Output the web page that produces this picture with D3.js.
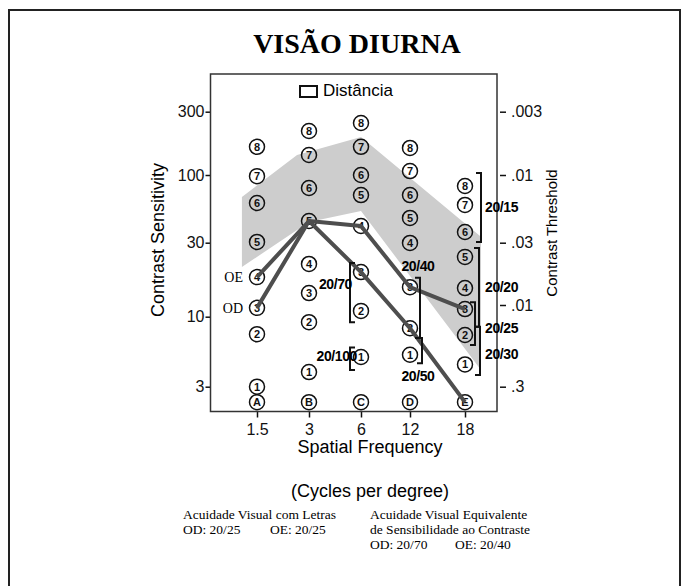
<!DOCTYPE html>
<html lang="pt">
<head>
<meta charset="UTF-8">
<title>Visão Diurna</title>
<style>
    body { margin: 0; padding: 0; background: #fff; }
    svg { display: block; }
    .sans { font-family: "Liberation Sans", Arial, sans-serif; }
    .serif { font-family: "Liberation Serif", "Times New Roman", serif; }
    .tick text { font-family: "Liberation Sans", Arial, sans-serif; font-size: 16px; fill: #111; }
    .tick line { stroke: #111; stroke-width: 1.5; }
</style>
</head>
<body>
<svg width="685" height="586"></svg>
<script src="https://d3js.org/d3.v7.min.js"></script>
<script>
    // spatial frequency columns (cycles per degree)
    const freqLabels = ["1.5", "3", "6", "12", "18"];
    const rowLetters = ["A", "B", "C", "D", "E"];

    // contrast sensitivity of patches 1..8 in each column
    const patches15 = [3.0, 7.4, 11.4, 18.0, 30.4, 60.8, 98, 163];
    const patches3 = [3.86, 9.1, 14.2, 21.9, 44.1, 79.4, 141.5, 214.7];
    const patches6 = [5.0, 10.9, 19.4, 40.4, 70, 100, 163, 246.5];
    const patches12 = [5.2, 8.2, 15.5, 29.9, 46.6, 70, 107, 160];
    const patches18 = [4.4, 7.3, 11.2, 15.3, 24.3, 36.3, 58.7, 82.2];
    const letterRowValue = 2.3;

    // last patch seen per column (0 = letter row)
    const odPatch = [3, 5, 3, 2, 0];
    const oePatch = [4, 5, 4, 3, 3];

    // normal range band [column index, sensitivity]
    const bandUpper = [[-0.29, 67.6], [0.77, 141.5], [2, 193], [4.29, 33.4]];
    const bandLower = [[-0.29, 20.9], [1, 43.4], [2, 52.7], [4.29, 4.0]];

    // acuity brackets
    const acuityLabels = ["20/15", "20/20", "20/25", "20/30", "20/70", "20/100", "20/40", "20/50"];
    const acuityCol = [4, 4, 4, 4, 2, 2, 3, 3];
    const acuityFrom = [30.4, 8.4, 6.15, 3.67, 9.1, 4.0, 6.93, 4.5];
    const acuityTo = [103.6, 27.7, 12.4, 8.4, 22.2, 5.9, 17.8, 6.93];

    const leftTicks = [3, 10, 30, 100, 300];
    const rightTicks = [0.003, 0.01, 0.03, 0.1, 0.3];
    const rightTickLabels = [".003", ".01", ".03", ".01", ".3"];

    const patches = [patches15, patches3, patches6, patches12, patches18];

    const svg = d3.select("svg");

    // plot box
    const box = { left: 210.5, top: 74, right: 497, bottom: 411.5 };

    const x = d3.scaleLinear()
        .domain([0, 1, 2, 3, 4])
        .range([257, 309, 361, 410, 465]);

    // the printed scale is not quite uniform, so map each decade mark
    const y = d3.scaleLog()
        .domain(leftTicks)
        .range([386.7, 316.7, 242.7, 175, 111.7]);

    const yThr = d3.scaleLog()
        .domain(rightTicks)
        .range([111.7, 175, 242.7, 305, 386.7]);

    // outer frame
    svg.append("rect")
        .attr("x", 9).attr("y", 10)
        .attr("width", 671).attr("height", 600)
        .attr("fill", "none").attr("stroke", "#222").attr("stroke-width", 2);

    svg.append("text")
        .attr("class", "serif")
        .attr("x", 357).attr("y", 53)
        .attr("text-anchor", "middle")
        .attr("font-size", 28).attr("font-weight", "bold")
        .text("VISÃO DIURNA");

    // normal band
    const bandPts = bandUpper.concat(bandLower.slice().reverse());
    svg.append("path")
        .attr("d", d3.line().x(d => x(d[0])).y(d => y(d[1])).curve(d3.curveLinearClosed)(bandPts))
        .attr("fill", "#cdcdcd");

    // axes
    svg.append("g")
        .attr("transform", `translate(${box.left},0)`)
        .call(d3.axisLeft(y).tickValues(leftTicks).tickFormat(d3.format("d")).tickSize(5).tickPadding(1))
        .call(g => g.select(".domain").remove());

    svg.append("g")
        .attr("transform", `translate(500,0)`)
        .call(d3.axisRight(yThr).tickValues(rightTicks).tickFormat((d, i) => rightTickLabels[i]).tickSize(6).tickPadding(5))
        .call(g => g.select(".domain").remove());

    svg.append("g")
        .attr("transform", `translate(0,${box.bottom})`)
        .call(d3.axisBottom(x).tickValues([0, 1, 2, 3, 4]).tickFormat(i => freqLabels[i]).tickSize(6).tickPadding(6))
        .call(g => g.select(".domain").remove());

    svg.append("rect")
        .attr("x", box.left).attr("y", box.top)
        .attr("width", box.right - box.left).attr("height", box.bottom - box.top)
        .attr("fill", "none").attr("stroke", "#333").attr("stroke-width", 1.5);

    // legend
    svg.append("rect")
        .attr("x", 300).attr("y", 86).attr("width", 17).attr("height", 11)
        .attr("fill", "none").attr("stroke", "#111").attr("stroke-width", 2);
    svg.append("text")
        .attr("class", "sans")
        .attr("x", 323).attr("y", 96)
        .attr("font-size", 17)
        .text("Distância");

    // patch circles
    const cells = [];
    patches.forEach((col, ci) => {
        col.forEach((v, pi) => cells.push({ ci, v, label: String(pi + 1) }));
        cells.push({ ci, v: letterRowValue, label: rowLetters[ci] });
    });

    const cell = svg.append("g").selectAll("g")
        .data(cells)
        .enter()
        .append("g")
        .attr("transform", d => `translate(${x(d.ci)},${y(d.v)})`);
    cell.append("circle")
        .attr("r", 7.5)
        .attr("fill", "none")
        .attr("stroke", "#111")
        .attr("stroke-width", 1.5);
    cell.append("text")
        .attr("class", "sans")
        .attr("text-anchor", "middle")
        .attr("dy", "0.36em")
        .attr("font-size", 11)
        .attr("font-weight", "bold")
        .attr("fill", "#111")
        .text(d => d.label);

    // OD / OE curves
    const patchValue = (ci, p) => p === 0 ? letterRowValue : patches[ci][p - 1];
    const curve = d3.line().x((d, i) => x(i)).y((d, i) => y(patchValue(i, d)));
    [odPatch, oePatch].forEach(p => {
        svg.append("path")
            .attr("d", curve(p))
            .attr("fill", "none")
            .attr("stroke", "#4e4e4e")
            .attr("stroke-width", 4)
            .attr("stroke-linejoin", "round");
    });

    svg.append("text").attr("class", "serif")
        .attr("x", x(0) - 14).attr("y", y(patchValue(0, oePatch[0])) + 5)
        .attr("text-anchor", "end").attr("font-size", 14)
        .text("OE");
    svg.append("text").attr("class", "serif")
        .attr("x", x(0) - 14).attr("y", y(patchValue(0, odPatch[0])) + 5)
        .attr("text-anchor", "end").attr("font-size", 14)
        .text("OD");

    // brackets: offset from column, foot direction, label position (from column x / bracket end)
    const bracketStyle = [
        { off: 16, foot: -5, lx: 20, ly: 5, anchor: "start" },
        { off: 14, foot: -5, lx: 20, ly: 5, anchor: "start" },
        { off: 10, foot: -5, lx: 20, ly: 9, anchor: "start" },
        { off: 15, foot: -5, lx: 20, ly: 8, anchor: "start" },
        { off: -11, foot: 5, lx: -9, ly: 26, anchor: "end", at: "top" },
        { off: -11, foot: 5, lx: -4, ly: 14, anchor: "end", at: "top" },
        { off: 10, foot: -5, lx: 8, ly: -7, anchor: "middle", at: "top" },
        { off: 12, foot: -5, lx: 8, ly: 18, anchor: "middle", at: "bottom" }
    ];

    acuityLabels.forEach((lab, i) => {
        const s = bracketStyle[i];
        const cx = x(acuityCol[i]);
        const bx = cx + s.off;
        const yTop = y(acuityTo[i]);
        const yBot = y(acuityFrom[i]);
        svg.append("path")
            .attr("d", `M${bx + s.foot},${yTop}H${bx}V${yBot}H${bx + s.foot}`)
            .attr("fill", "none")
            .attr("stroke", "#111")
            .attr("stroke-width", 2);
        let ty = (yTop + yBot) / 2;
        if (s.at === "top") ty = yTop;
        if (s.at === "bottom") ty = yBot;
        svg.append("text")
            .attr("class", "sans")
            .attr("x", cx + s.lx)
            .attr("y", ty + s.ly)
            .attr("text-anchor", s.anchor)
            .attr("font-size", 14)
            .attr("font-weight", "bold")
            .attr("letter-spacing", -0.4)
            .text(lab);
    });

    // axis titles
    svg.append("text").attr("class", "sans")
        .attr("transform", "translate(164,240) rotate(-90)")
        .attr("text-anchor", "middle").attr("font-size", 18)
        .text("Contrast Sensitivity");
    svg.append("text").attr("class", "sans")
        .attr("transform", "translate(557,233) rotate(-90)")
        .attr("text-anchor", "middle").attr("font-size", 15)
        .text("Contrast Threshold");
    svg.append("text").attr("class", "sans")
        .attr("x", 370).attr("y", 453)
        .attr("text-anchor", "middle").attr("font-size", 18)
        .text("Spatial Frequency");
    svg.append("text").attr("class", "sans")
        .attr("x", 370).attr("y", 497)
        .attr("text-anchor", "middle").attr("font-size", 18)
        .text("(Cycles per degree)");

    // acuity summary
    const notes = [
        ["Acuidade Visual com Letras", 183, 519],
        ["OD: 20/25", 183, 534],
        ["OE: 20/25", 270, 534],
        ["Acuidade Visual Equivalente", 370, 519],
        ["de Sensibilidade ao Contraste", 370, 534],
        ["OD: 20/70", 370, 549],
        ["OE: 20/40", 455, 549]
    ];
    svg.append("g").selectAll("text")
        .data(notes)
        .enter()
        .append("text")
        .attr("class", "serif")
        .attr("x", d => d[1]).attr("y", d => d[2])
        .attr("font-size", 13.5)
        .text(d => d[0]);
</script>
</body>
</html>
